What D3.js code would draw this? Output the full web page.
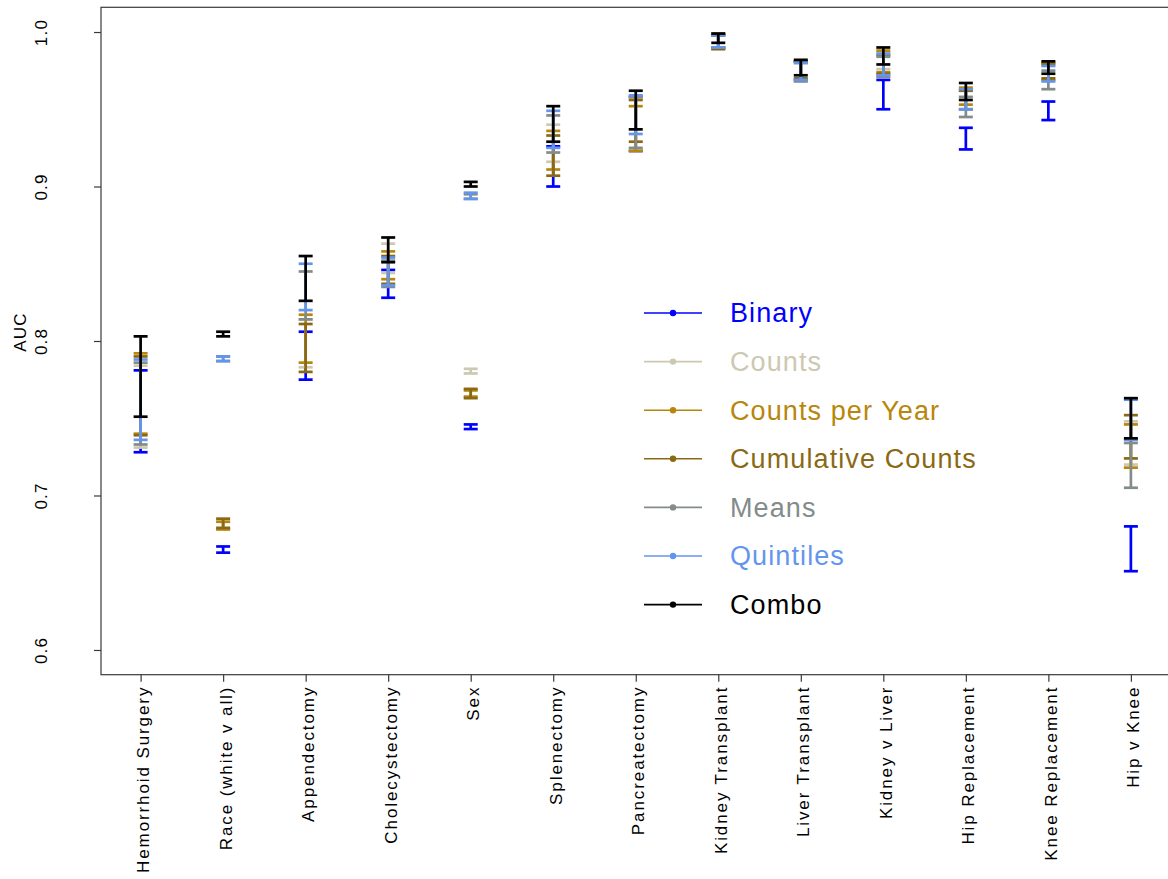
<!DOCTYPE html>
<html>
<head>
<meta charset="utf-8">
<script src="https://cdn.jsdelivr.net/npm/d3@7"></script>
<style>
  html, body { margin: 0; padding: 0; background: #fff; }
  svg { display: block; font-family: "Liberation Sans", Arial, sans-serif; }
</style>
</head>
<body>
<svg id="chart" width="1168" height="879"></svg>
<script>
// Procedures / comparisons on the x axis
const categories = [
  "Hemorrhoid Surgery", "Race (white v all)", "Appendectomy", "Cholecystectomy",
  "Sex", "Splenectomy", "Pancreatectomy", "Kidney Transplant", "Liver Transplant",
  "Kidney v Liver", "Hip Replacement", "Knee Replacement", "Hip v Knee"
];

// AUC confidence intervals [low, high] per feature set, one pair per category
const binary = [[0.728,0.781],[0.663,0.667],[0.775,0.806],[0.828,0.846],[0.743,0.746],[0.900,0.926],[0.923,0.958],[0.990,0.998],[0.969,0.981],[0.950,0.969],[0.924,0.938],[0.943,0.955],[0.651,0.680]];
const counts = [[0.731,0.784],[0.679,0.683],[0.783,0.814],[0.844,0.863],[0.779,0.782],[0.916,0.940],[0.924,0.957],[0.990,0.998],[0.969,0.981],[0.976,0.987],[0.950,0.962],[0.969,0.980],[0.720,0.748]];
const countsPerYear = [[0.740,0.792],[0.678,0.683],[0.786,0.817],[0.840,0.858],[0.764,0.768],[0.911,0.936],[0.923,0.952],[0.989,0.999],[0.969,0.981],[0.974,0.988],[0.953,0.964],[0.969,0.980],[0.718,0.746]];
const cumulativeCounts = [[0.739,0.790],[0.679,0.685],[0.780,0.811],[0.837,0.855],[0.763,0.769],[0.907,0.933],[0.929,0.956],[0.989,0.998],[0.970,0.981],[0.973,0.985],[0.950,0.962],[0.970,0.979],[0.724,0.752]];
const means = [[0.733,0.786],[0.787,0.790],[0.814,0.845],[0.835,0.852],[0.892,0.895],[0.922,0.946],[0.925,0.958],[0.990,0.998],[0.968,0.980],[0.971,0.984],[0.945,0.958],[0.963,0.975],[0.705,0.734]];
const quintiles = [[0.736,0.788],[0.787,0.790],[0.820,0.850],[0.836,0.854],[0.892,0.896],[0.925,0.949],[0.934,0.959],[0.990,0.998],[0.969,0.980],[0.972,0.986],[0.950,0.963],[0.968,0.978],[0.736,0.762]];
const combo = [[0.751,0.803],[0.803,0.806],[0.826,0.855],[0.851,0.867],[0.900,0.903],[0.929,0.952],[0.937,0.962],[0.993,0.999],[0.972,0.982],[0.979,0.990],[0.956,0.967],[0.973,0.981],[0.737,0.763]];

const seriesNames = ["Binary", "Counts", "Counts per Year", "Cumulative Counts", "Means", "Quintiles", "Combo"];
const seriesValues = [binary, counts, countsPerYear, cumulativeCounts, means, quintiles, combo];
const seriesColors = ["#0000FF", "#CDC8B1", "#B8860B", "#8B6914", "#838B8B", "#6495ED", "#000000"];

const yTicks = [0.6, 0.7, 0.8, 0.9, 1.0];

const svg = d3.select("#chart");

// plot region (x axis runs past the right edge of the page)
const x = d3.scaleLinear().domain([0.52, categories.length + 0.48]).range([101, 1170.5]);
const y = d3.scaleLinear().domain([0.584, 1.016]).range([674.7, 7.3]);

// frame
svg.append("rect")
  .attr("x", x.range()[0]).attr("y", y.range()[1])
  .attr("width", x.range()[1] - x.range()[0])
  .attr("height", y.range()[0] - y.range()[1])
  .attr("fill", "none").attr("stroke", "#3a3a3a").attr("stroke-width", 1.2);

// y axis
const yAxis = d3.axisLeft(y).tickValues(yTicks).tickFormat(d3.format(".1f")).tickSize(7).tickPadding(0);
const gy = svg.append("g").attr("transform", `translate(${x.range()[0]},0)`).call(yAxis);
gy.select(".domain").remove();
gy.selectAll(".tick line").attr("stroke", "#3a3a3a").attr("stroke-width", 1.2);
gy.selectAll(".tick text")
  .attr("x", 0).attr("y", 0).attr("dy", null)
  .attr("text-anchor", "middle")
  .attr("transform", "translate(-54,0) rotate(-90)")
  .attr("font-size", 17).attr("letter-spacing", 1.2)
  .attr("fill", "#000")
  .style("font-family", "'Liberation Sans', Arial, sans-serif");

svg.append("text")
  .attr("transform", `translate(26,${y(0.8) - 9}) rotate(-90)`)
  .attr("text-anchor", "middle")
  .attr("font-size", 17).attr("letter-spacing", 1.2)
  .text("AUC");

// x axis
const xAxis = d3.axisBottom(x).tickValues(d3.range(1, categories.length + 1))
  .tickFormat(i => categories[i - 1]).tickSize(7).tickPadding(0);
const gx = svg.append("g").attr("transform", `translate(0,${y.range()[0]})`).call(xAxis);
gx.select(".domain").remove();
gx.selectAll(".tick line").attr("stroke", "#3a3a3a").attr("stroke-width", 1.2);
gx.selectAll(".tick text")
  .attr("x", 0).attr("y", 0).attr("dy", null)
  .attr("text-anchor", "end")
  .attr("transform", "translate(8,11) rotate(-90)")
  .attr("font-size", 17).attr("letter-spacing", 1.9)
  .attr("fill", "#000")
  .style("font-family", "'Liberation Sans', Arial, sans-serif");

// error bars, drawn in legend order so Combo sits on top
const capHalf = 7;
seriesValues.forEach((vals, s) => {
  const g = svg.append("g")
    .attr("stroke", seriesColors[s]).attr("stroke-width", 2.7).attr("fill", "none");
  vals.forEach((v, i) => {
    const cx = x(i + 1);
    g.append("line").attr("x1", cx).attr("x2", cx).attr("y1", y(v[0])).attr("y2", y(v[1]));
    g.append("line").attr("x1", cx - capHalf).attr("x2", cx + capHalf).attr("y1", y(v[0])).attr("y2", y(v[0]));
    g.append("line").attr("x1", cx - capHalf).attr("x2", cx + capHalf).attr("y1", y(v[1])).attr("y2", y(v[1]));
  });
});

// legend
const legend = svg.append("g").attr("transform", "translate(644,313)");
seriesNames.forEach((name, s) => {
  const row = legend.append("g").attr("transform", `translate(0,${s * 48.6})`);
  row.append("line").attr("x1", 0).attr("x2", 58).attr("y1", 0).attr("y2", 0)
    .attr("stroke", seriesColors[s]).attr("stroke-width", 1.6);
  row.append("circle").attr("cx", 29).attr("cy", 0).attr("r", 3.2).attr("fill", seriesColors[s]);
  row.append("text").attr("x", 86).attr("y", 0).attr("dy", "0.35em")
    .attr("font-size", 27).attr("letter-spacing", 1.1)
    .attr("fill", seriesColors[s]).text(name);
});
</script>
</body>
</html>
